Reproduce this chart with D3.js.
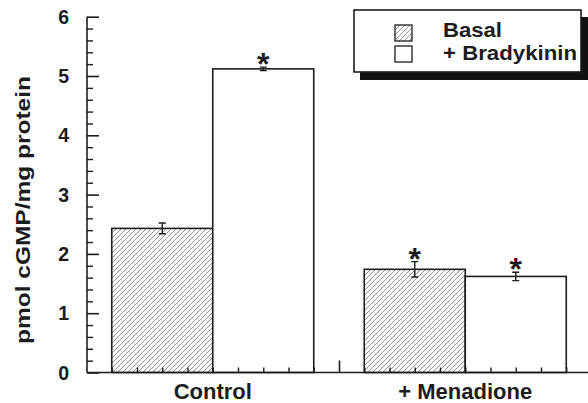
<!DOCTYPE html>
<html><head><meta charset="utf-8">
<script src="https://cdn.jsdelivr.net/npm/d3@7"></script>
<style>body{margin:0;background:#fff}svg{display:block}text{font-family:"Liberation Sans",Arial,sans-serif;font-weight:bold;fill:#1c1c1c}</style>
</head><body>
<svg id="c" width="588" height="403"></svg>
<script>
const categories = ["Control", "+ Menadione"];
const seriesNames = ["Basal", "+ Bradykinin"];
const basal = [2.43, 1.74];
const bradykinin = [5.12, 1.62];
const basalErr = [0.09, 0.13];
const bradykininErr = [0.03, 0.07];
const basalStar = [false, true];
const bradykininStar = [true, true];
const yTicks = [0, 1, 2, 3, 4, 5, 6];

const svg = d3.select("#c");
const W = 588, H = 403;
const ink = "#1c1c1c";
const y = d3.scaleLinear().domain([0, 6]).range([372.5, 16.7]);
const x = d3.scaleLinear().domain([0, 2]).range([86.5, 86.5 + 2 * 252.5]);
const barW = 0.4;
const axX = 87;

const defs = svg.append("defs");
const pat = defs.append("pattern").attr("id", "hatch").attr("patternUnits", "userSpaceOnUse")
  .attr("width", 5).attr("height", 5);
pat.append("rect").attr("width", 5).attr("height", 5).attr("fill", "#fff");
pat.append("path").attr("d", "M-1,1 l2,-2 M0,5 l5,-5 M4,6 l2,-2").attr("stroke", "#808080").attr("stroke-width", 0.85);

// bars
const series = [
  {name: seriesNames[0], vals: basal, err: basalErr, star: basalStar, off: -barW / 2, fill: "url(#hatch)"},
  {name: seriesNames[1], vals: bradykinin, err: bradykininErr, star: bradykininStar, off: barW / 2, fill: "#fff"}
];
series.forEach(s => {
  const g = svg.append("g");
  categories.forEach((c, i) => {
    const cx = x(i + 0.5 + s.off);
    const x0 = x(i + 0.5 + s.off - barW / 2), x1 = x(i + 0.5 + s.off + barW / 2);
    g.append("rect").attr("x", x0).attr("y", y(s.vals[i])).attr("width", x1 - x0)
      .attr("height", y(0) - y(s.vals[i])).attr("fill", s.fill).attr("stroke", ink).attr("stroke-width", 1.6);
    const eT = y(s.vals[i] + s.err[i]), eB = y(s.vals[i] - s.err[i]);
    g.append("path").attr("d", `M${cx},${eT}V${eB}M${cx - 3.5},${eT}h7M${cx - 3.5},${eB}h7`)
      .attr("stroke", ink).attr("stroke-width", 1.4).attr("fill", "none");
    if (s.star[i]) {
      g.append("text").attr("x", cx).attr("y", eT + 8).attr("text-anchor", "middle")
        .attr("font-size", 32).text("*");
    }
  });
});

// y axis
const yAxis = d3.axisRight(y).tickValues(yTicks).tickSize(12).tickFormat("");
const gy = svg.append("g").attr("transform", `translate(${axX},0)`).call(yAxis);
gy.select(".domain").attr("d", `M0,${y(6)}V${y(0)}`);
gy.selectAll("line, path").attr("stroke", ink).attr("stroke-width", 1.6);
const minorY = d3.range(0, 6.0001, 0.2).filter(v => Math.abs(v - Math.round(v)) > 1e-6);
svg.append("g").attr("transform", `translate(${axX},0)`).call(d3.axisRight(y).tickValues(minorY).tickSize(6).tickFormat(""))
  .call(g => g.select(".domain").remove()).selectAll("line").attr("stroke", ink).attr("stroke-width", 1.4);
yTicks.forEach(t => {
  svg.append("text").attr("x", 69).attr("y", y(t) + 7).attr("text-anchor", "end").attr("font-size", 19.5).text(t);
});
svg.append("text").attr("transform", `translate(30,210) rotate(-90)`)
  .attr("text-anchor", "middle").attr("font-size", 20.5)
  .attr("textLength", 268).attr("lengthAdjust", "spacingAndGlyphs").text("pmol cGMP/mg protein");

// x axis
const gx = svg.append("g").attr("transform", `translate(0,${y(0)})`);
gx.call(d3.axisTop(x).tickValues([1]).tickSize(12).tickFormat(""));
gx.select(".domain").attr("d", `M${axX},0H${W}`);
gx.selectAll("line, path").attr("stroke", ink).attr("stroke-width", 1.6);
const minorX = d3.range(0.1, 2, 0.1).filter(v => Math.abs(v - 1) > 1e-6);
svg.append("g").attr("transform", `translate(0,${y(0)})`).call(d3.axisTop(x).tickValues(minorX).tickSize(5).tickFormat(""))
  .call(g => g.select(".domain").remove()).selectAll("line").attr("stroke", ink).attr("stroke-width", 1.4);
categories.forEach((c, i) => {
  svg.append("text").attr("x", x(i + 0.5)).attr("y", 399).attr("text-anchor", "middle").attr("font-size", 22).text(c);
});

// legend
const lg = svg.append("g");
lg.append("rect").attr("x", 360).attr("y", 17).attr("width", 229).attr("height", 63).attr("fill", "#111");
lg.append("rect").attr("x", 354).attr("y", 10).attr("width", 227).attr("height", 62).attr("fill", "#fff")
  .attr("stroke", ink).attr("stroke-width", 1.6);
const fills = ["url(#hatch)", "#fff"];
const legendLen = [59, 134];
seriesNames.forEach((n, i) => {
  lg.append("rect").attr("x", 395).attr("y", 25 + i * 21).attr("width", 17).attr("height", 16)
    .attr("fill", fills[i]).attr("stroke", ink).attr("stroke-width", 1.3);
  lg.append("text").attr("x", 443).attr("y", 37 + i * 23).attr("font-size", 19.5)
    .attr("textLength", legendLen[i]).attr("lengthAdjust", "spacingAndGlyphs").text(n);
});
</script>
</body></html>
